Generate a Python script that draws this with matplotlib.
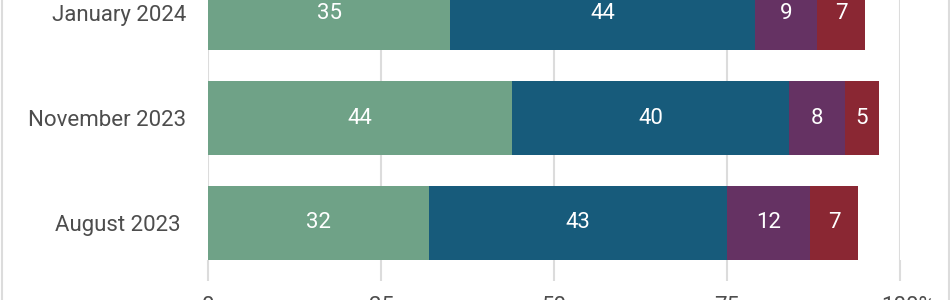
import matplotlib.pyplot as plt
import matplotlib.transforms as mtransforms
from matplotlib.lines import Line2D
import numpy as np

plt.rcParams['font.family'] = ['Roboto', 'DejaVu Sans']

# data (bottom to top)
periods = ['August 2023', 'November 2023', 'January 2024']
seg_a = [32, 44, 35]
seg_b = [43, 40, 44]
seg_c = [12, 8, 9]
seg_d = [7, 5, 7]
x_ticks = [0, 25, 50, 75, 100]
x_labels = ['0', '25', '50', '75', '100%']

colors = ['#6fa287', '#175b7b', '#653263', '#8a2733']
text_grey = '#4d4d4d'
grid_grey = '#dcdcdc'

fig = plt.figure(figsize=(9.5, 3), dpi=100)
ax = fig.add_axes([208 / 950, 40 / 300, 692 / 950, 284 / 300])

y = np.arange(len(periods))
left = np.zeros(len(periods))
for vals, col in zip([seg_a, seg_b, seg_c, seg_d], colors):
    vals = np.array(vals)
    ax.barh(y, vals, left=left, height=0.705, color=col, zorder=3)
    for yi, li, v in zip(y, left, vals):
        ax.text(li + v / 2, yi, str(v), ha='center', va='center',
                color='white', fontsize=16, zorder=4)
    left = left + vals

ax.set_xlim(0, 100)
ax.set_ylim(-0.3525, 2.3525)
ax.set_yticks(y)
ax.set_yticklabels(periods, fontsize=16, color=text_grey)
ax.set_xticks(x_ticks)
ax.set_xticklabels(x_labels, fontsize=16, color=text_grey)

ax.grid(axis='x', color=grid_grey, linewidth=1.5, zorder=0)
ax.set_axisbelow(True)
for s in ax.spines.values():
    s.set_visible(False)
ax.tick_params(axis='y', length=0, pad=16)
ax.tick_params(axis='x', length=15, width=1.5, color=grid_grey, pad=11)

# "100%" sits a little to the right of its tick
lab = ax.get_xticklabels()[-1]
lab.set_transform(lab.get_transform() + mtransforms.ScaledTranslation(8 / 100, 0, fig.dpi_scale_trans))

# "August 2023" label sits a bit further left in the original
ylab = ax.get_yticklabels()[0]
ylab.set_transform(ylab.get_transform() + mtransforms.ScaledTranslation(-5 / 100, 0, fig.dpi_scale_trans))

# card border on left and right
fig.add_artist(Line2D([1.5 / 950, 1.5 / 950], [0, 1], color=grid_grey, linewidth=1.5))
fig.add_artist(Line2D([948.5 / 950, 948.5 / 950], [0, 1], color=grid_grey, linewidth=1.5))

fig.savefig('out.png', dpi=100)
